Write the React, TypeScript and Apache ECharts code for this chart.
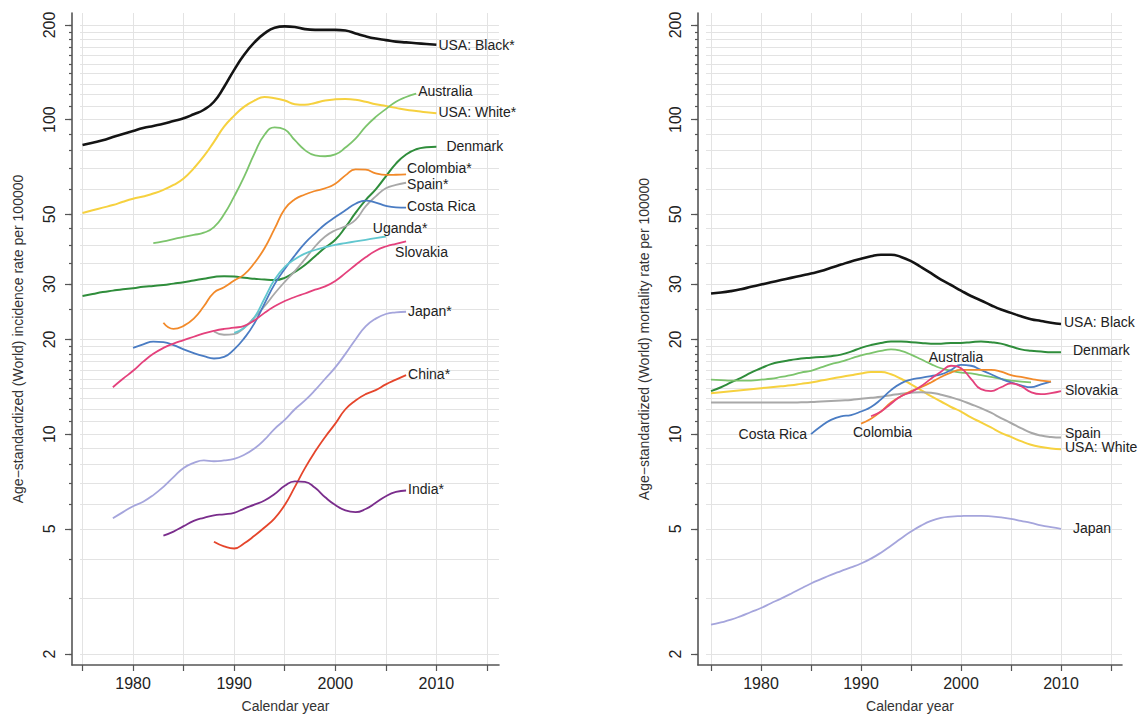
import React, { useEffect, useRef } from "react";
import * as echarts from "echarts";

const FONT = "'Liberation Sans', Arial, Helvetica, sans-serif";

// ---- axis ticks ----
const yearTicks = [1975, 1980, 1985, 1990, 1995, 2000, 2005, 2010, 2015];
const yearLabels = [1980, 1990, 2000, 2010];
const yMajor = [2, 5, 10, 20, 30, 50, 100, 200];
const yGrid = [
  2, 3, 4, 5, 6, 7, 8, 9, 10, 11, 12, 13, 14, 15, 16, 17, 18, 19, 20, 25, 30, 35, 40, 45, 50,
  60, 70, 80, 90, 100, 110, 120, 130, 140, 150, 160, 170, 180, 190, 200,
];

// ---- incidence (left panel) ----
const incUsaBlackStart = 1975;
const incUsaBlack = [83, 84.5, 86, 88, 90, 92, 94, 95.5, 97, 99, 101, 104, 107.5, 114, 127, 144, 161, 176, 188, 196, 198, 197, 194, 193, 193, 193, 192, 188, 184, 181, 179, 177, 176, 175, 174, 173];
const incUsaWhiteStart = 1975;
const incUsaWhite = [50.5, 51.5, 52.5, 53.5, 54.8, 56, 57, 58.2, 59.8, 62, 65, 70, 76.5, 85, 95, 103, 110, 115, 118, 117, 115, 112, 111.5, 113, 115, 116, 116.3, 115.7, 114, 112, 110.5, 109, 107.5, 106.5, 105.5, 104.8];
const incAustraliaStart = 1982;
const incAustralia = [40.5, 41, 41.7, 42.4, 43, 43.7, 45.5, 50, 57, 66, 78, 89.5, 94.5, 93, 86, 80, 77, 76.5, 77.5, 81.5, 87, 95, 102, 108, 114, 118, 121];
const incDenmarkStart = 1975;
const incDenmark = [27.5, 27.9, 28.3, 28.6, 28.9, 29.1, 29.4, 29.6, 29.8, 30.1, 30.4, 30.8, 31.2, 31.6, 31.8, 31.7, 31.4, 31.2, 31.0, 30.9, 31.4, 32.8, 34.5, 36.8, 39.2, 41.5, 45.5, 50.5, 55.5, 60, 66, 72.5, 77.5, 80.5, 81.7, 82];
const incColombiaStart = 1983;
const incColombia = [22.6, 21.6, 22.1, 23.3, 25.5, 28.2, 29.3, 30.8, 32.2, 35, 39, 45, 52, 55.8, 57.8, 59.3, 60.5, 62.5, 66.5, 69.5, 69.3, 67.5, 66.7, 66.8, 67];
const incSpainStart = 1988;
const incSpain = [21.2, 20.7, 20.8, 21.8, 23.5, 25.5, 28, 30.5, 33, 36, 39.5, 42.5, 44.5, 45.8, 48, 53, 57, 60.5, 62, 63];
const incCostaRicaStart = 1980;
const incCostaRica = [18.8, 19.3, 19.7, 19.6, 19.2, 18.6, 18.1, 17.7, 17.4, 17.6, 18.6, 20.2, 22.5, 26, 30, 33.5, 37, 40.5, 43.5, 46.5, 49, 51.5, 54, 55.3, 54.5, 53.2, 52.6, 52.5];
const incUgandaStart = 1990;
const incUganda = [21, 21.8, 23.5, 27, 31, 34, 36, 37.5, 38.5, 39.3, 40, 40.5, 41, 41.5, 42, 42.5];
const incSlovakiaStart = 1978;
const incSlovakia = [14.1, 15, 15.9, 17, 18, 18.8, 19.4, 19.9, 20.4, 20.9, 21.3, 21.6, 21.8, 22.1, 23, 24.3, 25.5, 26.5, 27.3, 28, 28.8, 29.5, 30.7, 32.5, 34.5, 36.5, 38.3, 39.5, 40.3, 41];
const incJapanStart = 1978;
const incJapan = [5.4, 5.65, 5.9, 6.1, 6.4, 6.8, 7.3, 7.8, 8.1, 8.25, 8.2, 8.25, 8.35, 8.6, 9, 9.6, 10.4, 11.1, 12, 12.8, 13.8, 15, 16.3, 18, 20, 22, 23.3, 24.1, 24.4, 24.5];
const incChinaStart = 1988;
const incChina = [4.55, 4.4, 4.33, 4.5, 4.75, 5.05, 5.4, 5.95, 6.8, 7.8, 8.8, 9.8, 10.8, 12, 12.8, 13.4, 13.8, 14.4, 14.9, 15.4];
const incIndiaStart = 1983;
const incIndia = [4.76, 4.9, 5.1, 5.3, 5.42, 5.52, 5.56, 5.62, 5.8, 5.97, 6.15, 6.45, 6.85, 7.08, 7.05, 6.75, 6.3, 5.95, 5.72, 5.65, 5.78, 6.05, 6.35, 6.55, 6.62];

// ---- mortality (right panel) ----
const mortUsaBlackStart = 1975;
const mortUsaBlack = [28, 28.2, 28.5, 28.9, 29.4, 29.9, 30.4, 30.9, 31.4, 31.9, 32.4, 33, 33.8, 34.6, 35.4, 36.1, 36.8, 37.2, 37.2, 36.6, 35.5, 34, 32.5, 31, 29.8, 28.6, 27.5, 26.6, 25.7, 24.9, 24.3, 23.7, 23.2, 22.9, 22.6, 22.4];
const mortDenmarkStart = 1975;
const mortDenmark = [13.7, 14.1, 14.6, 15.1, 15.7, 16.2, 16.7, 17.0, 17.2, 17.4, 17.5, 17.6, 17.7, 17.9, 18.3, 18.8, 19.2, 19.5, 19.7, 19.7, 19.6, 19.5, 19.4, 19.4, 19.5, 19.5, 19.6, 19.7, 19.6, 19.4, 19.0, 18.6, 18.4, 18.3, 18.2, 18.2];
const mortAustraliaStart = 1975;
const mortAustralia = [14.9, 14.85, 14.8, 14.8, 14.8, 14.9, 15.0, 15.2, 15.4, 15.7, 15.9, 16.3, 16.7, 17.0, 17.4, 17.8, 18.1, 18.4, 18.6, 18.4, 17.9, 17.3, 16.7, 16.2, 15.9, 15.7, 15.6, 15.4, 15.2, 15.0, 14.8, 14.7, 14.6];
const mortUsaWhiteStart = 1975;
const mortUsaWhite = [13.5, 13.6, 13.7, 13.8, 13.9, 14.0, 14.1, 14.2, 14.3, 14.45, 14.6, 14.8, 15.0, 15.2, 15.4, 15.6, 15.75, 15.75, 15.5, 15.0, 14.4, 13.8, 13.2, 12.7, 12.2, 11.8, 11.3, 10.9, 10.5, 10.1, 9.8, 9.5, 9.25, 9.1, 9.0, 8.95];
const mortSpainStart = 1975;
const mortSpain = [12.6, 12.6, 12.6, 12.6, 12.6, 12.6, 12.6, 12.6, 12.6, 12.62, 12.65, 12.7, 12.75, 12.8, 12.85, 12.95, 13.05, 13.15, 13.3, 13.45, 13.55, 13.6, 13.55, 13.35, 13.1, 12.8, 12.45, 12.1, 11.7, 11.25, 10.85, 10.45, 10.1, 9.9, 9.8, 9.75];
const mortJapanStart = 1975;
const mortJapan = [2.48, 2.52, 2.57, 2.64, 2.72, 2.8, 2.9, 3.0, 3.11, 3.23, 3.35, 3.46, 3.57, 3.67, 3.77, 3.88, 4.02, 4.2, 4.42, 4.66, 4.9, 5.12, 5.3, 5.42, 5.47, 5.49, 5.5, 5.5, 5.48, 5.44, 5.38, 5.3, 5.22, 5.13, 5.06, 5.0];
const mortCostaRicaStart = 1985;
const mortCostaRica = [10.0, 10.6, 11.1, 11.4, 11.5, 11.8, 12.2, 12.9, 13.8, 14.5, 14.9, 15.1, 15.3, 15.5, 16.0, 16.6, 16.5, 16.0, 15.5, 15.0, 14.6, 14.3, 14.1, 14.4, 14.7];
const mortColombiaStart = 1990;
const mortColombia = [10.8, 11.2, 11.8, 12.6, 13.2, 13.7, 14.1, 14.6, 15.2, 15.7, 16.0, 16.0, 16.0, 16.0, 15.8, 15.4, 15.2, 15.0, 14.8, 14.7];
const mortSlovakiaStart = 1991;
const mortSlovakia = [11.4, 11.8, 12.5, 13.2, 13.6, 14.2, 15.0, 15.8, 16.5, 16.2, 15.0, 13.9, 13.7, 14.1, 14.5, 14.2, 13.6, 13.4, 13.5, 13.7];

const C = {
  black: "#141414",
  yellow: "#f6d13f",
  lightGreen: "#7cc46c",
  darkGreen: "#2f8d3b",
  orange: "#f28a2a",
  gray: "#a8a8a8",
  blue: "#4a7cc3",
  cyan: "#62c7cf",
  pink: "#e4417c",
  lavender: "#a5a5dc",
  red: "#e5452b",
  purple: "#7a2d8c",
};

const mk = (start: number, vals: number[]) => vals.map((v, i) => [start + i, v]);

const Y_MIN = 1.845;
const Y_MAX = 218.3;
const AXIS_COLOR = "#555";
const GRID_COLOR = "#e3e3e3";

function endLabel(text: string, distance: number, offset: number[]) {
  return {
    show: true,
    formatter: text,
    distance,
    offset,
    color: "#222",
    fontSize: 14,
    lineHeight: 14,
    fontFamily: FONT,
  };
}

function lineSeries(
  name: string,
  start: number,
  vals: number[],
  color: string,
  xIdx: number,
  yIdx: number,
  label: { distance?: number; offset?: number[]; text?: string } | null,
  width = 1.8,
  extra: any = {}
) {
  return {
    type: "line",
    name,
    xAxisIndex: xIdx,
    yAxisIndex: yIdx,
    data: mk(start, vals),
    smooth: 0.5,
    showSymbol: false,
    symbol: "none",
    silent: true,
    lineStyle: { color, width },
    itemStyle: { color },
    endLabel: label
      ? endLabel(label.text ?? name, label.distance ?? 2, label.offset ?? [0, 0])
      : { show: false },
    ...extra,
  };
}

function pointLabel(text: string, coord: number[], position: string, offset: number[], distance = 4) {
  return {
    symbol: "circle",
    symbolSize: 0,
    silent: true,
    itemStyle: { color: "rgba(0,0,0,0)" },
    data: [
      {
        coord,
        label: {
          show: true,
          position,
          distance,
          offset,
          formatter: text,
          color: "#222",
          fontSize: 14,
          lineHeight: 14,
          fontFamily: FONT,
        },
      },
    ],
  };
}

function yAxes(gridMain: number, gridLines: number, title: string) {
  const base = { type: "log", logBase: 10, min: Y_MIN, max: Y_MAX };
  return [
    {
      ...base,
      gridIndex: gridMain,
      position: "left",
      name: title,
      nameLocation: "middle",
      nameGap: 47,
      nameRotate: 90,
      nameTextStyle: { fontSize: 14, color: "#333", fontFamily: FONT },
      axisLine: { show: true, onZero: false, lineStyle: { color: AXIS_COLOR, width: 1.6 } },
      axisTick: { show: true, inside: false, length: 3, customValues: yGrid, lineStyle: { color: AXIS_COLOR, width: 1.2 } },
      axisLabel: {
        show: true,
        customValues: yMajor,
        rotate: 90,
        margin: 15,
        fontSize: 16,
        color: "#222",
        fontFamily: FONT,
        formatter: (v: number) => String(Math.round(v)),
      },
      splitLine: { show: false },
      minorTick: { show: false },
      minorSplitLine: { show: false },
    },
    {
      ...base,
      gridIndex: gridMain,
      position: "left",
      offset: 0,
      axisLine: { show: false, onZero: false },
      axisTick: { show: true, inside: false, length: 7, customValues: yMajor, lineStyle: { color: AXIS_COLOR, width: 1.2 } },
      axisLabel: { show: false },
      splitLine: { show: false },
    },
    {
      ...base,
      gridIndex: gridLines,
      position: "left",
      axisLine: { show: false, onZero: false },
      axisTick: { show: false, customValues: yGrid },
      axisLabel: { show: false },
      splitLine: { show: true, lineStyle: { color: GRID_COLOR, width: 1 } },
    },
  ];
}

function xAxes(gridMain: number, gridLines: number, min: number, max: number) {
  return [
    {
      type: "value",
      gridIndex: gridMain,
      min,
      max,
      name: "Calendar year",
      nameLocation: "middle",
      nameGap: 34,
      nameTextStyle: { fontSize: 14, color: "#333", fontFamily: FONT },
      axisLine: { show: true, onZero: false, lineStyle: { color: AXIS_COLOR, width: 1.6 } },
      axisTick: { show: true, inside: false, length: 6, customValues: yearTicks, lineStyle: { color: AXIS_COLOR, width: 1.2 } },
      axisLabel: {
        show: true,
        customValues: yearLabels,
        margin: 10,
        fontSize: 16,
        color: "#222",
        fontFamily: FONT,
        formatter: (v: number) => String(Math.round(v)),
      },
      splitLine: { show: true, lineStyle: { color: GRID_COLOR, width: 1 } },
    },
    { type: "value", gridIndex: gridLines, min: 0, max: 1, show: false },
  ];
}

export default function App() {
  const ref = useRef<HTMLDivElement>(null);

  useEffect(() => {
    if (!ref.current) return;
    const chart = echarts.init(ref.current, null, { renderer: "svg" });

    const series: any[] = [
      // left panel: xAxis 0, yAxis 0
      lineSeries("USA: Black*", incUsaBlackStart, incUsaBlack, C.black, 0, 0, { distance: 2 }, 2.6, { z: 5 }),
      lineSeries("USA: White*", incUsaWhiteStart, incUsaWhite, C.yellow, 0, 0, { distance: 2, offset: [0, -1] }, 2),
      lineSeries("Australia", incAustraliaStart, incAustralia, C.lightGreen, 0, 0, { distance: 2, offset: [0, -3] }),
      lineSeries("Denmark", incDenmarkStart, incDenmark, C.darkGreen, 0, 0, { distance: 10, offset: [0, -1] }, 2),
      lineSeries("Colombia*", incColombiaStart, incColombia, C.orange, 0, 0, { distance: 1, offset: [0, -6] }),
      lineSeries("Spain*", incSpainStart, incSpain, C.gray, 0, 0, { distance: 1, offset: [0, 1] }),
      lineSeries("Costa Rica", incCostaRicaStart, incCostaRica, C.blue, 0, 0, { distance: 1, offset: [0, -2] }),
      lineSeries("Uganda*", incUgandaStart, incUganda, C.cyan, 0, 0, { distance: 5, offset: [-18, -9] }),
      lineSeries("Slovakia", incSlovakiaStart, incSlovakia, C.pink, 0, 0, { distance: 5, offset: [-16, 11] }),
      lineSeries("Japan*", incJapanStart, incJapan, C.lavender, 0, 0, { distance: 2, offset: [0, -1] }),
      lineSeries("China*", incChinaStart, incChina, C.red, 0, 0, { distance: 2, offset: [0, -1] }),
      lineSeries("India*", incIndiaStart, incIndia, C.purple, 0, 0, { distance: 2, offset: [0, -1] }),
      // right panel: xAxis 2, yAxis 3
      lineSeries("USA: Black", mortUsaBlackStart, mortUsaBlack, C.black, 2, 3, { distance: 3, offset: [0, -2] }, 2.6, { z: 5 }),
      lineSeries("Denmark (mortality)", mortDenmarkStart, mortDenmark, C.darkGreen, 2, 3, { text: "Denmark", distance: 12, offset: [0, -2] }, 2),
      lineSeries("Australia (mortality)", mortAustraliaStart, mortAustralia, C.lightGreen, 2, 3, null, 1.8, {
        markPoint: pointLabel("Australia", [1999, mortAustralia[1999 - mortAustraliaStart]], "top", [5, -3]),
      }),
      lineSeries("USA: White", mortUsaWhiteStart, mortUsaWhite, C.yellow, 2, 3, { distance: 4, offset: [0, -2] }, 2),
      lineSeries("Spain", mortSpainStart, mortSpain, C.gray, 2, 3, { distance: 4, offset: [0, -5] }, 2),
      lineSeries("Japan", mortJapanStart, mortJapan, C.lavender, 2, 3, { distance: 12, offset: [0, -1] }),
      lineSeries("Costa Rica (mortality)", mortCostaRicaStart, mortCostaRica, C.blue, 2, 3, null, 1.8, {
        markPoint: pointLabel("Costa Rica", [mortCostaRicaStart, mortCostaRica[0]], "left", [0, 0], 4),
      }),
      lineSeries("Colombia (mortality)", mortColombiaStart, mortColombia, C.orange, 2, 3, null, 1.8, {
        markPoint: pointLabel("Colombia", [mortColombiaStart, mortColombia[0]], "right", [-13, 8], 5),
      }),
      lineSeries("Slovakia (mortality)", mortSlovakiaStart, mortSlovakia, C.pink, 2, 3, { text: "Slovakia", distance: 4, offset: [0, -1] }),
    ];

    const option: any = {
      animation: false,
      backgroundColor: "#ffffff",
      textStyle: { fontFamily: FONT },
      grid: [
        { left: 72, top: 13, width: 427, height: 652, outerBoundsMode: "none", containLabel: false },
        { left: 80, top: 13, width: 419, height: 652, outerBoundsMode: "none", containLabel: false },
        { left: 698, top: 13, width: 424, height: 652, outerBoundsMode: "none", containLabel: false },
        { left: 706, top: 13, width: 416, height: 652, outerBoundsMode: "none", containLabel: false },
      ],
      xAxis: [...xAxes(0, 1, 1973.96, 2016.19), ...xAxes(2, 3, 1973.7, 2016.1)],
      yAxis: [
        ...yAxes(0, 1, "Age\u2212standardized (World) incidence rate per 100000"),
        ...yAxes(2, 3, "Age\u2212standardized (World) mortality rate per 100000"),
      ],
      series,
    };

    chart.setOption(option);
    return () => chart.dispose();
  }, []);

  return (
    <div
      ref={ref}
      style={{ position: "absolute", left: 0, top: 0, width: 1144, height: 717, background: "#fff" }}
    />
  );
}
